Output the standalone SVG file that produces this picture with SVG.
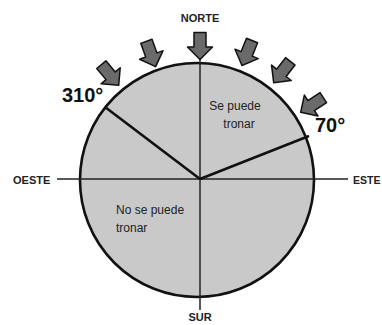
<svg xmlns="http://www.w3.org/2000/svg" width="382" height="325" viewBox="0 0 382 325">
<defs>
<style>
.lbl{font-family:"Liberation Sans",Arial,sans-serif;font-weight:bold;fill:#222;}
.ang{font-family:"Liberation Sans",Arial,sans-serif;font-weight:bold;font-size:20px;fill:#111;}
.zone{font-family:"Liberation Sans",Arial,sans-serif;font-size:12px;fill:#222;}
.ax{stroke:#222;stroke-width:1.5;fill:none;}
.ray{stroke:#111;stroke-width:2.6;fill:none;}
.arw{fill:#6a6a6a;stroke:#111;stroke-width:1.5;stroke-linejoin:round;}
</style>
<polygon id="arrowShape" points="-6,-13.5 6,-13.5 6,1 12.5,1 0,13.5 -12.5,1 -6,1"/>
</defs>
<rect width="382" height="325" fill="#ffffff"/>
<g id="disc">
<circle cx="197" cy="180" r="117" fill="#c9c9c9" stroke="#111" stroke-width="2.6"/>
</g>
<g id="connectors">
<line class="ax" x1="57" y1="179" x2="348" y2="179"/>
<line class="ax" x1="200" y1="58" x2="200" y2="310"/>
<line class="ray" x1="200" y1="179" x2="105" y2="107"/>
<line class="ray" x1="200" y1="179" x2="309" y2="136"/>
</g>
<g id="arrows">
<use href="#arrowShape" class="arw" transform="translate(110,75) rotate(-40)"/>
<use href="#arrowShape" class="arw" transform="translate(151,54) rotate(-20)"/>
<use href="#arrowShape" class="arw" transform="translate(200,46)"/>
<use href="#arrowShape" class="arw" transform="translate(247,53) rotate(22)"/>
<use href="#arrowShape" class="arw" transform="translate(282,72) rotate(38)"/>
<use href="#arrowShape" class="arw" transform="translate(312,105) rotate(57)"/>
</g>
<g id="norte"><text class="lbl" x="200" y="22" font-size="11" text-anchor="middle">NORTE</text></g>
<g id="sur"><text class="lbl" x="200" y="321" font-size="11" text-anchor="middle">SUR</text></g>
<g id="oeste"><text class="lbl" x="13" y="184" font-size="11">OESTE</text></g>
<g id="este"><text class="lbl" x="353" y="184" font-size="10.5">ESTE</text></g>
<g id="a310"><text class="ang" x="62" y="102">310°</text></g>
<g id="a70"><text class="ang" x="315" y="132">70°</text></g>
<g id="sepuede"><text class="zone" x="235" y="110" text-anchor="middle">Se puede</text><text class="zone" x="239" y="128" text-anchor="middle">tronar</text></g>
<g id="nosepuede"><text class="zone" x="116" y="214">No se puede</text><text class="zone" x="116" y="232">tronar</text></g>
</svg>
